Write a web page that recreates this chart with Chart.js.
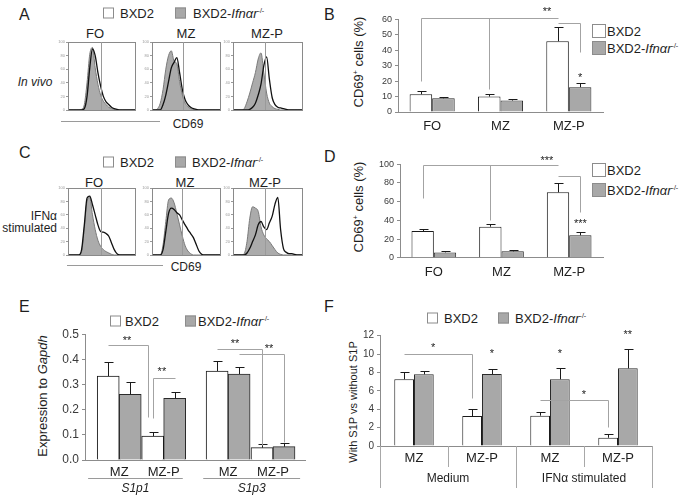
<!DOCTYPE html>
<html>
<head>
<meta charset="UTF-8">
<script src="https://cdn.jsdelivr.net/npm/chart.js@4.4.1/dist/chart.umd.min.js"></script>
<title>CD69 and S1P receptors in BXD2 vs BXD2-Ifnar-/- B cells</title>
<style>
  body { margin:0; background:#fff; }
  #fig { position:relative; width:679px; height:498px; overflow:hidden; font-family:"Liberation Sans", Arial, sans-serif; color:#1e1e1e; }
  #fig canvas { position:absolute; }
  .t { position:absolute; white-space:nowrap; line-height:1; }
  .c { transform:translate(-50%,-50%); }
  .l { transform:translateY(-50%); }
  .r { transform:translate(-100%,-50%); }
  .v { transform:translate(-50%,-50%) rotate(-90deg); }
  .let { font-size:16px; }
  .lg { font-size:13px; }
  .sw { position:absolute; width:9px; height:9px; border:1px solid #8c8c8c; background:#fff; transform:translateY(-50%); }
  .sw.g { background:#a8a8a8; }
  .sw.big { width:12px; height:12px; }
  sup { font-size:0.55em; vertical-align:0.65em; line-height:0; }
  .ax { position:absolute; height:0; border-top:1px solid #9a9a9a; }
</style>
</head>
<body>
<div id="fig">
  <div class="t let" style="left:19px;top:7px">A</div>
  <div class="t let" style="left:324px;top:7px">B</div>
  <div class="t let" style="left:19px;top:145px">C</div>
  <div class="t let" style="left:324px;top:149px">D</div>
  <div class="t let" style="left:19px;top:299px">E</div>
  <div class="t let" style="left:324px;top:299px">F</div>

  <!-- legends -->
  <div class="sw" style="left:103px;top:13px"></div><div class="t l lg" style="left:120px;top:13px">BXD2</div>
  <div class="sw g" style="left:175px;top:13px"></div><div class="t l lg" style="left:193px;top:13px">BXD2-<i>Ifnαr</i><sup>-/-</sup></div>
  <div class="sw" style="left:103px;top:162px"></div><div class="t l lg" style="left:120px;top:162px">BXD2</div>
  <div class="sw g" style="left:175px;top:162px"></div><div class="t l lg" style="left:192px;top:162px">BXD2-<i>Ifnαr</i><sup>-/-</sup></div>
  <div class="sw" style="left:110px;top:321px"></div><div class="t l lg" style="left:125px;top:321px">BXD2</div>
  <div class="sw g" style="left:185px;top:321px"></div><div class="t l lg" style="left:198px;top:321px">BXD2-<i>Ifnαr</i><sup>-/-</sup></div>
  <div class="sw" style="left:427px;top:318px"></div><div class="t l lg" style="left:444px;top:318px">BXD2</div>
  <div class="sw g" style="left:498px;top:318px"></div><div class="t l lg" style="left:515px;top:318px">BXD2-<i>Ifnαr</i><sup>-/-</sup></div>

  <div class="sw big" style="left:592px;top:31px"></div><div class="t l lg" style="left:607px;top:31px">BXD2</div>
  <div class="sw big g" style="left:592px;top:48px"></div><div class="t l lg" style="left:607px;top:48px">BXD2-<i>Ifnαr</i><sup>-/-</sup></div>
  <div class="sw big" style="left:592px;top:170px"></div><div class="t l lg" style="left:607px;top:170px">BXD2</div>
  <div class="sw big g" style="left:592px;top:190px"></div><div class="t l lg" style="left:607px;top:190px">BXD2-<i>Ifnαr</i><sup>-/-</sup></div>

  <!-- histogram titles and axis notes -->
  <div class="t c" style="left:95px;top:33px;font-size:13px">FO</div>
  <div class="t c" style="left:186px;top:33px;font-size:13px">MZ</div>
  <div class="t c" style="left:267px;top:33px;font-size:13px">MZ-P</div>
  <div class="t c" style="left:94px;top:182px;font-size:13px">FO</div>
  <div class="t c" style="left:185px;top:182px;font-size:13px">MZ</div>
  <div class="t c" style="left:265px;top:182px;font-size:13px">MZ-P</div>
  <div class="t c" style="left:35px;top:82px;font-size:12px;font-style:italic">In vivo</div>
  <div class="t r" style="left:57px;top:216px;font-size:12px">IFNα</div>
  <div class="t r" style="left:57px;top:228px;font-size:12px">stimulated</div>
  <div class="ax" style="left:61px;top:121px;width:99px"></div>
  <div class="t c" style="left:188px;top:124px;font-size:12px">CD69</div>
  <div class="ax" style="left:67px;top:265px;width:96px"></div>
  <div class="t c" style="left:186px;top:267px;font-size:12px">CD69</div>

  <!-- rotated axis titles -->
  <div class="t v" style="left:358px;top:62px;font-size:13px">CD69<sup>+</sup> cells (%)</div>
  <div class="t v" style="left:358px;top:207px;font-size:13px">CD69<sup>+</sup> cells (%)</div>
  <div class="t v" style="left:42px;top:396px;font-size:13px">Expression to <i>Gapdh</i></div>
  <div class="t v" style="left:353px;top:402px;font-size:11px">With S1P vs without S1P</div>
</div>
<script>
Chart.defaults.font.family = '"Liberation Sans", Arial, sans-serif';
Chart.defaults.color = '#333';
Chart.defaults.animation = false;

// ---- A / C : CD69 histograms (% of max), sampled every 4 units of the CD69 axis ----
const cd69Bins = [0,4,8,12,16,20,24,28,32,36,40,44,48,52,56,60,64,68,72,76,80,84,88,92,96,100];
const vivoFO_wt  = [0,0,0,0,0,0,2,20,62,90,80,55,35,20,12,8,4,2,1,0,0,0,0,0,0,0];
const vivoFO_ko  = [0,0,0,0,0,1,8,40,82,92,62,38,22,13,8,4,2,1,0,0,0,0,0,0,0,0];
const vivoMZ_wt  = [0,0,0,0,8,22,42,62,70,77,55,30,15,8,4,2,1,0,0,0,0,0,0,0,0,0];
const vivoMZ_ko  = [0,0,2,10,30,60,80,87,72,68,42,22,10,5,2,1,0,0,0,0,0,0,0,0,0,0];
const vivoMZP_wt = [0,0,0,0,0,0,1,4,10,22,38,65,78,45,18,8,4,3,2,1,0,0,0,0,0,0];
const vivoMZP_ko = [0,0,0,0,2,12,25,40,55,75,84,55,25,10,5,2,1,0,0,0,0,0,0,0,0,0];
const stimFO_wt  = [0,0,0,0,0,8,45,85,88,75,60,45,35,34,32,28,18,8,2,0,0,0,0,0,0,0];
const stimFO_ko  = [0,0,0,0,0,5,40,80,86,60,38,22,13,8,5,3,1,0,0,0,0,0,0,0,0,0];
const stimMZ_wt  = [0,0,0,0,8,35,62,70,68,63,60,52,45,38,32,26,16,6,1,0,0,0,0,0,0,0];
const stimMZ_ko  = [0,0,0,0,15,50,82,85,78,62,45,28,14,6,2,0,0,0,0,0,0,0,0,0,0,0];
const stimMZP_wt = [0,0,0,0,0,3,10,20,30,45,50,42,38,48,58,76,86,38,10,4,2,2,1,0,0,0];
const stimMZP_ko = [0,0,0,0,2,20,55,72,70,65,42,30,24,20,14,8,3,1,0,0,0,0,0,0,0,0];
const vivoGates = [48, 45, 46];
const stimGates = [48, 43, 45];

// ---- B / D : CD69+ cells (%) ----
const subsets = ['FO', 'MZ', 'MZ-P'];
const vivoWT = [11.5, 10.0, 45.9],  vivoWTsem = [2.4, 1.7, 9.3];
const vivoKO = [8.9, 7.4, 16.1],    vivoKOsem = [1.1, 0.9, 2.6];
const stimWT = [28.5, 33.2, 70.0],  stimWTsem = [2.5, 2.5, 10.3];
const stimKO = [5.7, 6.8, 24.0],    stimKOsem = [1.8, 1.0, 3.2];

// ---- E : expression to Gapdh ----
const exprCats  = ['MZ', 'MZ-P', 'MZ', 'MZ-P'];
const exprGenes = ['S1p1', 'S1p3'];
const exprWT = [0.334, 0.095, 0.354, 0.049], exprWTsem = [0.055, 0.015, 0.041, 0.013];
const exprKO = [0.261, 0.245, 0.342, 0.053], exprKOsem = [0.048, 0.024, 0.029, 0.013];

// ---- F : with S1P vs without S1P ----
const migCats   = ['MZ', 'MZ-P', 'MZ', 'MZ-P'];
const migGroups = ['Medium', 'IFNα stimulated'];
const migWT = [7.26, 3.26, 3.30, 0.90], migWTsem = [0.83, 0.73, 0.43, 0.37];
const migKO = [7.80, 7.83, 7.26, 8.45], migKOsem = [0.40, 0.55, 1.19, 2.07];

const fig = document.getElementById('fig');
function canvasAt(x, y, w, h) {
  const c = document.createElement('canvas');
  c.width = w; c.height = h;
  c.style.left = x + 'px'; c.style.top = y + 'px';
  c.style.width = w + 'px'; c.style.height = h + 'px';
  fig.appendChild(c);
  return c;
}

// box around the histogram plus the CD69 gate line
function framePlugin(gate) {
  return {
    id: 'frame',
    afterDatasetsDraw(chart) {
      const { ctx, chartArea: a, scales: { x } } = chart;
      ctx.save();
      ctx.strokeStyle = '#8a8a8a'; ctx.lineWidth = 1;
      ctx.strokeRect(Math.round(a.left) + 0.5, Math.round(a.top) + 0.5, Math.round(a.width) - 1, Math.round(a.height));
      const gx = Math.round(x.getPixelForValue(gate)) + 0.5;
      ctx.strokeStyle = '#9a9a9a';
      ctx.beginPath(); ctx.moveTo(gx, a.top); ctx.lineTo(gx, a.bottom); ctx.stroke();
      ctx.restore();
    }
  };
}

function hist(x, y, w, h, wt, ko, gate) {
  const pts = arr => arr.map((v, i) => ({ x: cd69Bins[i], y: v }));
  new Chart(canvasAt(x - 16, y - 4, w + 19, h + 10), {
    type: 'line',
    data: { datasets: [
      { data: pts(wt), borderColor: '#111', borderWidth: 1.3, fill: false, pointRadius: 0, cubicInterpolationMode: 'monotone' },
      { data: pts(ko), borderColor: '#7a7a7a', backgroundColor: '#ababab', borderWidth: 1, fill: 'origin', pointRadius: 0, cubicInterpolationMode: 'monotone' }
    ] },
    options: {
      responsive: false, devicePixelRatio: 1,
      layout: { padding: { top: 4, right: 3, bottom: 6, left: 0 } },
      plugins: { legend: { display: false }, tooltip: { enabled: false } },
      scales: {
        x: { type: 'linear', min: 0, max: 100, display: false },
        y: { min: 0, max: 100, ticks: { stepSize: 20, font: { size: 4 }, color: '#999', padding: 1 },
             grid: { drawOnChartArea: false, tickLength: 2, color: '#999' }, border: { color: '#8a8a8a' },
             afterFit: s => { s.width = 16; } }
      }
    },
    plugins: [framePlugin(gate)]
  });
}

hist(68, 42, 68, 68, vivoFO_wt, vivoFO_ko, vivoGates[0]);
hist(152, 42, 69, 68, vivoMZ_wt, vivoMZ_ko, vivoGates[1]);
hist(233, 42, 70, 68, vivoMZP_wt, vivoMZP_ko, vivoGates[2]);
hist(68, 188, 68, 67, stimFO_wt, stimFO_ko, stimGates[0]);
hist(152, 188, 69, 67, stimMZ_wt, stimMZ_ko, stimGates[1]);
hist(233, 188, 70, 67, stimMZP_wt, stimMZP_ko, stimGates[2]);

// upward error bars (mean + SEM)
const errPlugin = {
  id: 'errbars',
  afterDatasetsDraw(chart) {
    const ctx = chart.ctx, ys = chart.scales.y;
    chart.data.datasets.forEach((ds, i) => {
      if (!ds.sem) return;
      chart.getDatasetMeta(i).data.forEach((bar, j) => {
        const d = ds.data[j];
        const v = typeof d === 'object' ? d.y : d;
        const top = Math.round(ys.getPixelForValue(v + ds.sem[j])) + 0.5;
        const bx = Math.round(bar.x) + 0.5;
        ctx.save();
        ctx.strokeStyle = '#1a1a1a'; ctx.lineWidth = 1;
        ctx.beginPath();
        ctx.moveTo(bx, bar.y); ctx.lineTo(bx, top);
        ctx.moveTo(bx - 4, top); ctx.lineTo(bx + 5, top);
        ctx.stroke();
        ctx.restore();
      });
    });
  }
};

// significance brackets; a point is [category, series, value] (series null: x is an axis value)
function sigPlugin(lines, stars) {
  return {
    id: 'sig',
    afterDatasetsDraw(chart) {
      const { ctx, scales: { x, y } } = chart;
      const px = p => p[1] === null ? x.getPixelForValue(p[0]) : chart.getDatasetMeta(p[1]).data[p[0]].x;
      ctx.save();
      ctx.strokeStyle = '#a3a3a3'; ctx.lineWidth = 1;
      lines.forEach(line => {
        ctx.beginPath();
        line.forEach((p, k) => {
          const X = Math.round(px(p)) + 0.5, Y = Math.round(y.getPixelForValue(p[2])) + 0.5;
          if (k) ctx.lineTo(X, Y); else ctx.moveTo(X, Y);
        });
        ctx.stroke();
      });
      ctx.fillStyle = '#222'; ctx.font = '11px "Liberation Sans"';
      ctx.textAlign = 'center'; ctx.textBaseline = 'middle';
      stars.forEach(s => ctx.fillText(s[3], px(s), y.getPixelForValue(s[2]) + 2));
      ctx.restore();
    }
  };
}

function barSets(wt, wtSem, ko, koSem) {
  return [
    { data: wt, sem: wtSem, backgroundColor: '#ffffff', borderColor: '#1a1a1a', borderWidth: 1 },
    { data: ko, sem: koSem, backgroundColor: '#a8a8a8', borderColor: '#2a2a2a', borderWidth: 1 }
  ];
}
function yScale(max, step, size, width, fmt) {
  const ticks = { stepSize: step, font: { size }, color: '#3a3a3a', padding: 3 };
  if (fmt) ticks.callback = fmt;
  return { min: 0, max, ticks, grid: { drawOnChartArea: false, tickLength: 3, color: '#8c8c8c' },
           border: { color: '#8c8c8c' }, afterFit: s => { s.width = width; } };
}
function xCat(size, height, pad) {
  return { grid: { display: false, drawTicks: false }, border: { color: '#8c8c8c' },
           ticks: { font: { size }, color: '#1e1e1e', padding: pad, maxRotation: 0, autoSkip: false },
           afterFit: s => { s.height = height; } };
}
const common = { responsive: false, devicePixelRatio: 1,
  plugins: { legend: { display: false }, tooltip: { enabled: false } } };

// B
new Chart(canvasAt(355, 0, 255, 135), {
  type: 'bar',
  data: { labels: subsets, datasets: barSets(vivoWT, vivoWTsem, vivoKO, vivoKOsem) },
  options: { ...common,
    layout: { padding: { top: 19.5, right: 7, left: 0, bottom: 0 } },
    datasets: { bar: { categoryPercentage: 0.66, barPercentage: 1 } },
    scales: { x: xCat(13, 23, 7), y: yScale(60, 10, 9, 43) } },
  plugins: [errPlugin, sigPlugin(
    [[[0, 0, 20], [0, 0, 61], [2, 0, 61]], [[1, 0, 61], [1, 0, 15]], [[2, 0, 58], [2, 1, 58], [2, 1, 39]]],
    [[1.68, null, 66, '**'], [2, 1, 23.5, '*']])]
});

// D
new Chart(canvasAt(355, 145, 255, 135), {
  type: 'bar',
  data: { labels: subsets, datasets: barSets(stimWT, stimWTsem, stimKO, stimKOsem) },
  options: { ...common,
    layout: { padding: { top: 19.3, right: 7, left: 0, bottom: 0 } },
    datasets: { bar: { categoryPercentage: 0.66, barPercentage: 1 } },
    scales: { x: xCat(13, 22.3, 7), y: yScale(100, 20, 9, 45) } },
  plugins: [errPlugin, sigPlugin(
    [[[0, 0, 64], [0, 0, 99], [2, 0, 99]], [[1, 0, 99], [1, 0, 40]], [[2, 0, 87], [2, 1, 87], [2, 1, 49]]],
    [[1.67, null, 106, '***'], [2, 1, 38, '***']])]
});

// E : two genes, pairs of bars placed on a value axis so the genes are spaced apart
const exprPos = [0.77, 1.77, 3.22, 4.23];
const exprSpan = [[0.07, 2.2], [2.66, 4.84]];
const exprGenePlugin = {
  id: 'genes',
  afterDraw(chart) {
    const { ctx, chartArea: a, scales: { x } } = chart;
    ctx.save();
    ctx.strokeStyle = '#9a9a9a'; ctx.lineWidth = 1;
    ctx.fillStyle = '#1e1e1e'; ctx.font = 'italic 12px "Liberation Sans"';
    ctx.textAlign = 'center'; ctx.textBaseline = 'middle';
    exprGenes.forEach((g, k) => {
      const x0 = x.getPixelForValue(exprSpan[k][0]), x1 = x.getPixelForValue(exprSpan[k][1]);
      ctx.beginPath(); ctx.moveTo(x0, a.bottom + 18.5); ctx.lineTo(x1, a.bottom + 18.5); ctx.stroke();
      ctx.fillText(g, (x0 + x1) / 2, a.bottom + 29);
    });
    ctx.restore();
  }
};
const xy = arr => arr.map((v, i) => ({ x: exprPos[i], y: v }));
new Chart(canvasAt(40, 322, 270, 173), {
  type: 'bar',
  data: { datasets: barSets(xy(exprWT), exprWTsem, xy(exprKO), exprKOsem) },
  options: { ...common,
    layout: { padding: { top: 12.3, right: 5, left: 0, bottom: 0 } },
    datasets: { bar: { barThickness: 22 } },
    scales: {
      x: { type: 'linear', offset: false, min: 0, max: 4.95,
           grid: { display: false, drawTicks: false, offset: false }, border: { color: '#8c8c8c' },
           ticks: { font: { size: 13 }, color: '#1e1e1e', padding: 5, maxRotation: 0, autoSkip: false,
                    callback: (v, i) => exprCats[i] },
           afterBuildTicks: s => { s.ticks = exprPos.map(v => ({ value: v })); },
           afterFit: s => { s.height = 35; } },
      y: yScale(0.5, 0.1, 12, 45, v => v.toFixed(1))
    } },
  plugins: [errPlugin, exprGenePlugin, sigPlugin(
    [[[0, 0, 0.456], [1.42, null, 0.456], [1.42, null, 0.17]],
     [[1, 0, 0.167], [1, 0, 0.325], [1, 1, 0.325]],
     [[2, 0, 0.44], [3, 0, 0.44], [3, 0, 0.06]],
     [[2, 1, 0.42], [3, 1, 0.42], [3, 1, 0.07]]],
    [[0.945, null, 0.48, '**'], [1.73, null, 0.36, '**'], [3.375, null, 0.47, '**'], [4.14, null, 0.45, '**']])]
});

// F : category separators and group labels under the axis
const migAxisPlugin = {
  id: 'migAxis',
  afterDraw(chart) {
    const { ctx, chartArea: a, scales: { x } } = chart;
    ctx.save();
    ctx.strokeStyle = '#a8a8a8'; ctx.lineWidth = 1;
    for (let i = 0; i <= migCats.length; i++) {
      const gx = Math.round(x.getPixelForValue(i - 0.5)) + 0.5;
      ctx.beginPath(); ctx.moveTo(gx, a.bottom); ctx.lineTo(gx, a.bottom + (i % 2 === 0 ? 42 : 21)); ctx.stroke();
    }
    ctx.fillStyle = '#1e1e1e'; ctx.font = '12px "Liberation Sans"';
    ctx.textAlign = 'center'; ctx.textBaseline = 'middle';
    migGroups.forEach((g, k) => ctx.fillText(g, x.getPixelForValue(2 * k + 0.5), a.bottom + 33));
    ctx.restore();
  }
};
new Chart(canvasAt(345, 322, 315, 173), {
  type: 'bar',
  data: { labels: migCats, datasets: barSets(migWT, migWTsem, migKO, migKOsem) },
  options: { ...common,
    layout: { padding: { top: 13.7, right: 8, left: 0, bottom: 0 } },
    datasets: { bar: { categoryPercentage: 0.58, barPercentage: 1 } },
    scales: { x: xCat(13, 49, 5), y: yScale(12, 2, 10, 35) } },
  plugins: [errPlugin, migAxisPlugin, sigPlugin(
    [[[0, 0, 10], [1, 0, 10], [1, 0, 5.2]], [[2, 0, 5.0], [3, 0, 5.0], [3, 0, 2.1]]],
    [[0.28, null, 10.9, '*'], [1, 1, 10.2, '*'], [2, 1, 10.2, '*'], [3, 1, 12.3, '**'], [2.5, null, 5.8, '*']])]
});
</script>
</body>
</html>
